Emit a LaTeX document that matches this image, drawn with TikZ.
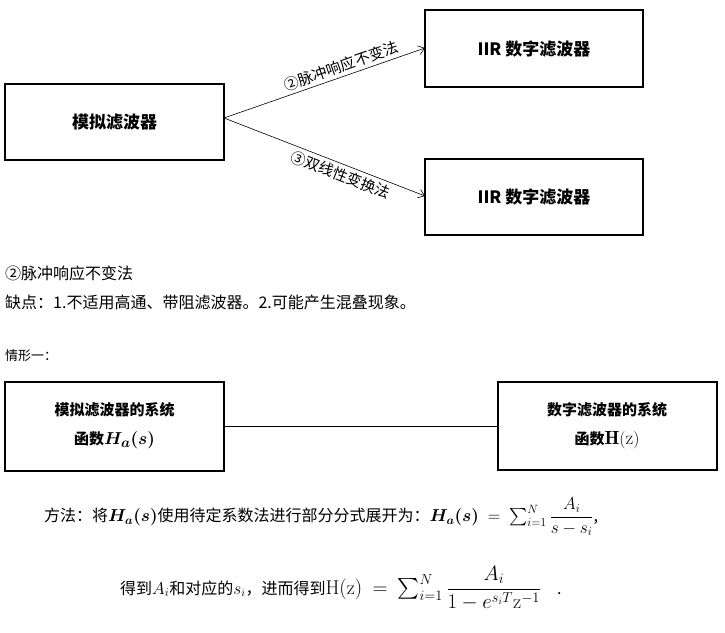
\documentclass[tikz,border=0pt]{standalone}
\usepackage{amsmath,bm}
\usepackage{fontspec}
\newfontfamily\cjk{Noto Sans CJK SC}
\usetikzlibrary{arrows.meta}
\begin{document}
\begin{tikzpicture}[x=1pt,y=-1pt,
  box/.style={draw,line width=1.3pt,inner sep=0pt},
  arr/.style={-{Straight Barb[length=6pt,width=9pt]},line width=0.6pt},
  txt/.style={anchor=west,inner sep=0pt,font=\cjk\fontsize{16}{18}\selectfont}]
\useasboundingbox (0,0) rectangle (725,632);
\draw[box] (5,84) rectangle (224,160);
\node[font=\cjk\bfseries\fontsize{17}{19}\selectfont] (a) at (114.5,122) {模拟滤波器};
\draw[box] (425,10) rectangle (643,87);
\node[font=\cjk\bfseries\fontsize{17}{19}\selectfont] (b) at (534,49) {IIR 数字滤波器};
\draw[box] (425,159) rectangle (643,235);
\node[font=\cjk\bfseries\fontsize{17}{19}\selectfont] (c) at (534,197) {IIR 数字滤波器};
\coordinate (s) at (224,118);
\coordinate (t1) at (425,48);
\coordinate (t2) at (425,196);
\draw[arr] (s) -- (t1) node[pos=0.6,sloped,above=0pt,font=\cjk\fontsize{15}{17}\selectfont] {②脉冲响应不变法};
\draw[arr] (s) -- (t2) node[pos=0.6,sloped,below=0pt,font=\cjk\fontsize{15}{17}\selectfont] {③双线性变换法};
\node[txt] (l1) at (5,273) {②脉冲响应不变法};
\node[txt] (l2) at (5,302) {缺点：1.不适用高通、带阻滤波器。2.可能产生混叠现象。};
\node[txt,font=\cjk\fontsize{13}{15}\selectfont] (l3) at (5,356) {情形一：};
\draw[box] (5,382) rectangle (224,471);
\node[font=\cjk\bfseries\fontsize{15}{17}\selectfont,align=center] (d) at (114.5,426) {模拟滤波器的系统\\[12pt] 函数{\fontsize{19}{21}\selectfont$\bm{H_a(s)}$}};
\draw[box] (498,382) rectangle (717,470);
\node[font=\cjk\bfseries\fontsize{15}{17}\selectfont,align=center] (e) at (607,426) {数字滤波器的系统\\[12pt] 函数{\fontsize{19}{21}\selectfont$\mathbf{H}(\mathrm{z})$}};
\draw[line width=0.6pt] (224,426) -- (498,426);
\node[txt] (m1) at (44,517) {方法：将{\fontsize{18}{20}\selectfont$\bm{H_a(s)}$}使用待定系数法进行部分分式展开为：{\fontsize{18}{20}\selectfont$\bm{H_a(s)}\ =\ \textstyle\sum_{i=1}^{N}\dfrac{A_i}{s-s_i}$},};
\node[txt] (m2) at (120,588) {得到{\fontsize{18}{20}\selectfont$A_i$}和对应的$s_i$，进而得到{\fontsize{20}{22}\selectfont$\mathrm{H(z)}\ =\ \textstyle\sum_{i=1}^{N}\dfrac{A_i}{1-e^{s_iT}\mathrm{z}^{-1}}$}\quad .};
\end{tikzpicture}
\end{document}
